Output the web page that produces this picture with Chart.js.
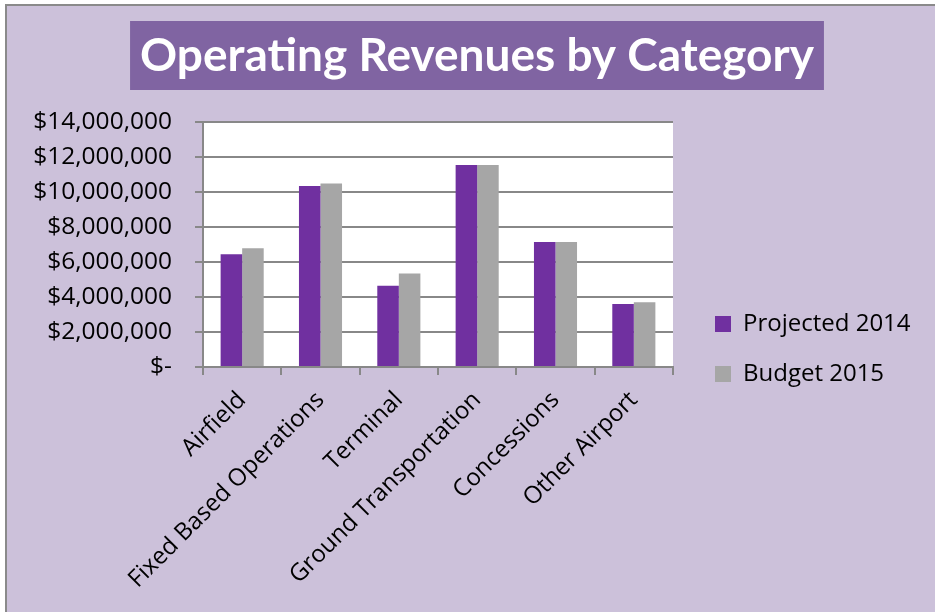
<!DOCTYPE html>
<html>
<head>
<meta charset="utf-8">
<script src="https://cdn.jsdelivr.net/npm/chart.js@4.4.1/dist/chart.umd.min.js"></script>
<style>
  body { margin: 0; background: #fff; }
  .wrap { width: 935px; height: 612px; }
</style>
</head>
<body>
<div class="wrap"><canvas id="revChart"></canvas></div>
<script>
const categories = ['Airfield', 'Fixed Based Operations', 'Terminal', 'Ground Transportation', 'Concessions', 'Other Airport'];
const projected2014 = [6440000, 10340000, 4650000, 11540000, 7140000, 3600000];
const budget2015 = [6780000, 10480000, 5350000, 11540000, 7140000, 3700000];
const yMax = 14000000;
const yStep = 2000000;

Chart.defaults.font.family = '"Open Sans"';
Chart.defaults.color = '#000';

// lavender panel, grey frame, white plot area and the purple title box
const panel = {
    id: 'panel',
    beforeDraw(chart) {
        const c = chart.ctx;
        const ca = chart.chartArea;
        c.save();
        c.fillStyle = '#fff';
        c.fillRect(0, 0, chart.width, chart.height);
        c.fillStyle = '#CCC1DA';
        c.fillRect(6, 5, chart.width, chart.height);
        c.strokeStyle = '#8a8a8a';
        c.lineWidth = 2;
        c.beginPath();
        c.moveTo(6, chart.height);
        c.lineTo(6, 5);
        c.lineTo(chart.width, 5);
        c.stroke();
        c.fillStyle = '#fff';
        c.fillRect(ca.left, ca.top, ca.right - ca.left, ca.bottom - ca.top);

        const tb = chart.titleBlock;
        const t = chart.options.plugins.title;
        c.font = 'bold ' + t.font.size + 'px Lato';
        const w = c.measureText(t.text).width;
        const cx = (tb.left + tb.right) / 2;
        const cy = tb.top + t.padding.top + t.font.size * 1.2 / 2;
        c.fillStyle = '#8064A2';
        c.fillRect(cx - w / 2 - 10, cy - 35, w + 20, 69);
        c.restore();
    }
};

// keep the legend a fixed width and put it low on the right
const legendSpot = {
    id: 'legendSpot',
    beforeInit(chart) {
        const fit = chart.legend.fit;
        chart.legend.fit = function () {
            fit.call(this);
            this.width = 262;
        };
    },
    afterLayout(chart) {
        const lg = chart.legend;
        lg.left = chart.chartArea.right + 16;
        lg.right = chart.width;
        lg.top = 286;
        lg.bottom = 286 + 200;
    }
};

const ctx = document.getElementById('revChart').getContext('2d');
const revChart = new Chart(ctx, {
    type: 'bar',
    data: {
        labels: categories,
        datasets: [{
            label: 'Projected 2014',
            data: projected2014,
            backgroundColor: '#7030A0',
            borderWidth: 0
        }, {
            label: 'Budget 2015',
            data: budget2015,
            backgroundColor: '#A6A6A6',
            borderWidth: 0
        }]
    },
    options: {
        responsive: true,
        maintainAspectRatio: false,
        animation: false,
        datasets: {
            bar: {
                categoryPercentage: 0.55,
                barPercentage: 1
            }
        },
        layout: {
            padding: { left: 19, top: 6, right: 0, bottom: 0 }
        },
        scales: {
            x: {
                grid: {
                    drawOnChartArea: false,
                    color: '#888',
                    lineWidth: 2,
                    tickLength: 8
                },
                border: { color: '#888', width: 2 },
                ticks: {
                    autoSkip: false,
                    minRotation: 45,
                    maxRotation: 45,
                    padding: 11,
                    font: { size: 24 },
                    color: '#000'
                },
                afterFit(scale) {
                    scale.height = 245;
                }
            },
            y: {
                min: 0,
                max: yMax,
                grid: {
                    color: '#888',
                    lineWidth: 2,
                    tickLength: 8
                },
                border: { color: '#888', width: 2 },
                ticks: {
                    stepSize: yStep,
                    padding: 23,
                    font: { size: 24.5 },
                    color: '#000',
                    callback: v => v === 0 ? '$-' : '$' + v.toLocaleString('en-US')
                },
                afterFit(scale) {
                    scale.width = 184;
                }
            }
        },
        plugins: {
            title: {
                display: true,
                text: 'Operating Revenues by Category',
                color: '#fff',
                font: { family: 'Lato', size: 46, weight: 'bold' },
                padding: { top: 22.4, bottom: 38.4 }
            },
            legend: {
                position: 'right',
                align: 'start',
                labels: {
                    boxWidth: 16,
                    boxHeight: 16,
                    padding: 26,
                    font: { size: 24 },
                    color: '#000'
                }
            },
            tooltip: { enabled: false }
        }
    },
    plugins: [panel, legendSpot]
});
</script>
</body>
</html>
